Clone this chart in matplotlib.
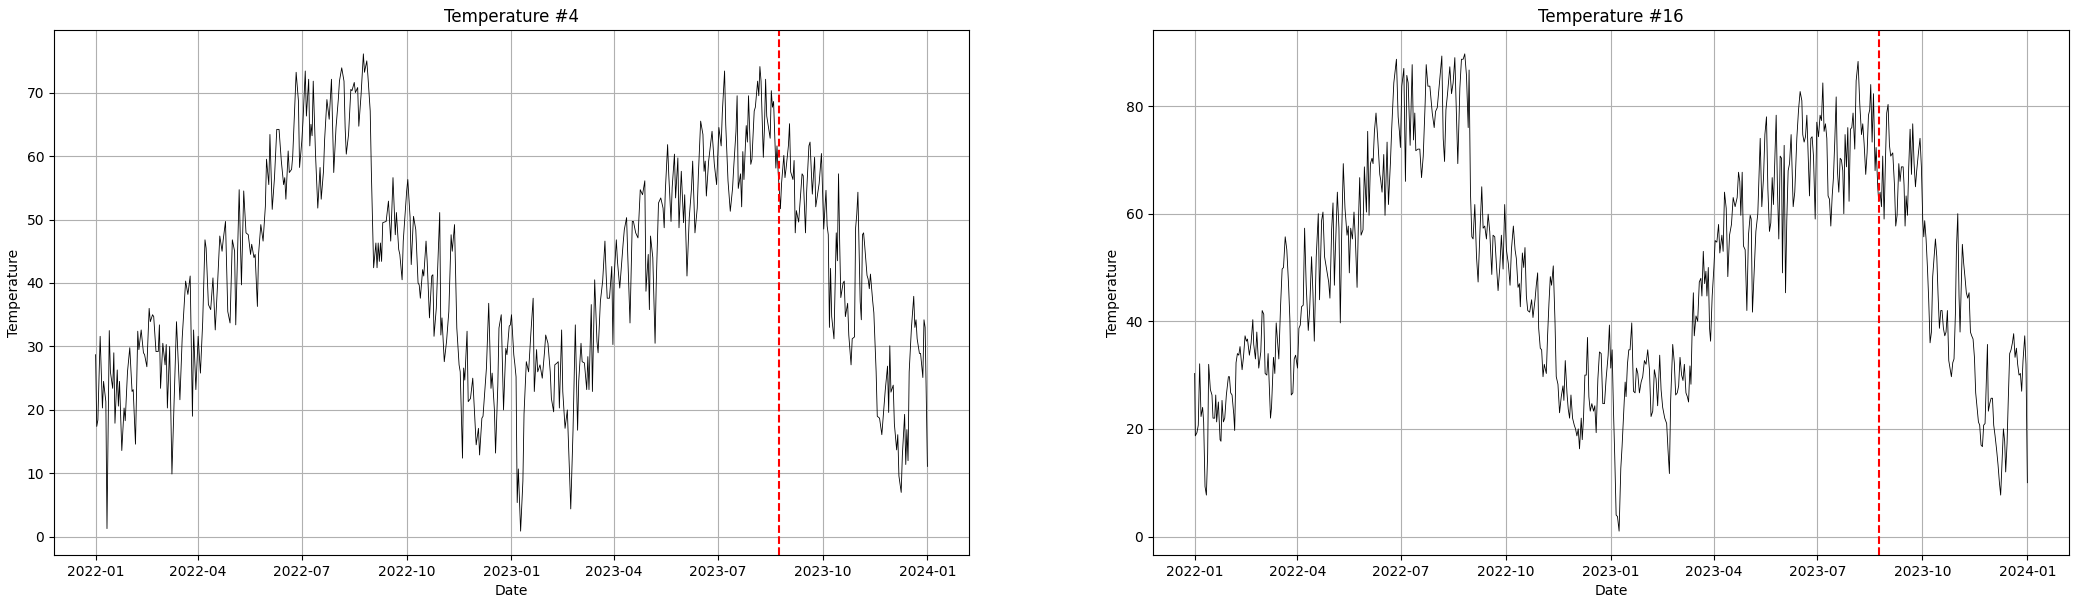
import matplotlib
matplotlib.use("Agg")
import matplotlib.pyplot as plt
import matplotlib.dates as mdates
import pandas as pd

START = "2022-01-01"
CUTOFF = "2023-08-24"

t4_days = [0, 1, 2, 4, 6, 7, 9, 10, 12, 13, 15, 16, 17, 19, 20, 21, 23, 25, 26, 28,
           30, 32, 33, 35, 37, 38, 40, 42, 43, 45, 47, 48, 50, 51, 53, 55, 56, 57, 59, 61,
           62, 63, 65, 67, 71, 74, 76, 79, 81, 83, 85, 86, 88, 90, 92, 94, 96, 97, 99, 101,
           103, 105, 107, 109, 111, 112, 114, 116, 118, 120, 122, 123, 126, 128, 130, 132, 134, 136, 137, 139,
           140, 142, 143, 145, 147, 149, 150, 152, 153, 155, 157, 159, 161, 163, 165, 166, 167, 169, 170, 172,
           173, 176, 178, 179, 181, 182, 184, 185, 187, 188, 189, 190, 191, 193, 195, 197, 198, 200, 201, 203,
           205, 207, 209, 211, 213, 214, 216, 218, 219, 220, 222, 224, 225, 227, 228, 230, 231, 233, 235, 236,
           238, 239, 241, 242, 243, 244, 246, 247, 248, 249, 250, 251, 252, 255, 257, 258, 259, 261, 263, 264,
           266, 267, 269, 270, 272, 273, 274, 276, 277, 279, 281, 283, 284, 285, 287, 288, 290, 291, 293, 295,
           296, 297, 299, 300, 302, 303, 304, 306, 308, 310, 312, 313, 315, 317, 319, 320, 322, 323, 324, 326,
           327, 329, 331, 333, 334, 336, 337, 339, 340, 342, 343, 345, 347, 348, 350, 351, 353, 354, 356, 358,
           360, 361, 363, 364, 365, 367, 368, 369, 370, 371, 372, 373, 375, 376, 377, 378, 380, 382, 384, 385,
           387, 388, 390, 392, 394, 395, 397, 399, 400, 402, 403, 405, 406, 407, 409, 410, 412, 414, 417, 419,
           421, 423, 424, 426, 427, 429, 431, 432, 433, 435, 436, 438, 440, 441, 443, 445, 447, 448, 449, 451,
           453, 454, 455, 457, 458, 460, 463, 464, 466, 467, 469, 471, 472, 474, 476, 478, 480, 482, 483, 485,
           486, 487, 489, 491, 492, 494, 496, 498, 499, 500, 502, 503, 505, 506, 508, 509, 511, 512, 514, 516,
           517, 519, 521, 523, 524, 526, 528, 529, 531, 533, 534, 535, 536, 538, 539, 541, 543, 545, 546, 547,
           549, 550, 552, 553, 555, 557, 559, 560, 562, 563, 564, 566, 567, 568, 569, 571, 572, 573, 575, 576,
           578, 579, 581, 582, 583, 584, 586, 587, 588, 589, 591, 592, 593, 594, 595, 597, 598, 599, 601, 602,
           604, 605, 606, 608, 609, 610, 612, 613, 614, 615, 617, 618, 620, 621, 622, 623, 624, 626, 627, 629,
           631, 632, 635, 637, 639, 641, 642, 643, 644, 645, 646, 648, 650, 651, 652, 653, 654, 656, 657, 658,
           660, 661, 663, 664, 666, 667, 668, 669, 671, 672, 673, 674, 675, 677, 678, 679, 680, 682, 683, 685,
           686, 688, 690, 691, 693, 695, 696, 697, 698, 700, 701, 703, 704, 705, 707, 708, 710, 711, 712, 713,
           714, 716, 718, 719, 720, 721, 723, 724, 726, 727, 728, 730]

t4_vals = [28.7, 17.4, 18.4, 31.6, 20.3, 24.5, 21.3, 1.3, 32.5, 26, 23.4, 29, 17.9, 26.3, 20.6, 24.5, 13.6, 20.3, 18.3, 26,
           29.8, 22.9, 23.2, 14.6, 32.4, 29.5, 32.6, 29, 28.7, 26.8, 36, 33.9, 35, 34.7, 29.2, 29.2, 33.4, 23.4, 30.5, 27.1,
           30.3, 20.3, 30, 9.9, 33.9, 21.6, 31.3, 40.3, 38.2, 41.1, 19, 32.6, 23.2, 31.6, 25.8, 33.9, 46.8, 45.5, 36.6, 35.8,
           40.8, 32.6, 39.7, 47.4, 45, 46.8, 49.7, 35.5, 33.7, 46.8, 45, 33.4, 54.7, 39.7, 54.5, 47.9, 47.6, 44.5, 46.1, 44,
           44.5, 36.3, 44.5, 49.2, 46.6, 52.1, 59.5, 55.5, 63.4, 51.6, 56.6, 64.2, 64.2, 59.2, 55.5, 56.6, 53.2, 60.8, 57.4, 57.9,
           60, 73.2, 68.7, 58.2, 62.4, 65.5, 73.4, 66.3, 72.1, 61.6, 65, 63.2, 71.8, 60.3, 51.8, 58.2, 53.2, 57.6, 62.6, 68.9,
           65.8, 72.1, 57.4, 64.5, 68.9, 71.8, 73.9, 71.8, 64.5, 60.3, 63.4, 70.5, 70.3, 71.6, 70, 70.8, 64.7, 69.7, 76.1, 73.2,
           75, 72.6, 67.1, 57.6, 49.7, 42.4, 46.3, 42.4, 46.3, 43.4, 46.3, 43.4, 49.5, 49.7, 52.9, 49.7, 46.6, 56.6, 47.6, 51.1,
           45.3, 44.5, 40.5, 46.6, 51.8, 54.5, 56.3, 50.3, 42.9, 50.5, 48.4, 40, 39.7, 37.6, 42.1, 41.1, 46.6, 43.4, 34.5, 41.1,
           41.3, 31.6, 36, 41.3, 51.1, 31.8, 34.5, 27.6, 30.8, 35.5, 47.6, 45, 49.2, 32.9, 27.1, 26, 12.4, 26.6, 24.7, 32.4,
           21.3, 21.8, 25, 18.2, 14.5, 17.1, 12.9, 18.7, 19, 24.2, 26.6, 36.8, 23.4, 25.8, 20, 13.2, 23.9, 32.9, 35, 20,
           29.7, 28.7, 33.2, 33.4, 35, 28.7, 27.1, 25.2, 5.4, 10.7, 5.7, 0.9, 8.8, 19.4, 23.6, 27.6, 26, 32.1, 37.6, 22.9,
           29.5, 26, 27.1, 25, 29.2, 31.8, 30.5, 26, 21.8, 19.7, 27.1, 27.4, 27.6, 20.3, 32.6, 22.9, 17.1, 20, 4.4, 16.8,
           33.4, 16.8, 24.5, 30.5, 27.6, 27.4, 23.2, 28.4, 23.2, 36.6, 22.9, 40.5, 30.8, 29, 37.1, 40.3, 46.6, 41.6, 37.6, 37.6,
           42.6, 30.3, 40.8, 46.8, 43.4, 39.2, 46.3, 48.4, 50.3, 44.5, 33.7, 49.7, 49.7, 47.9, 47.1, 54.7, 53.9, 56.1, 38.7, 44.5,
           35.8, 47.4, 44, 30.5, 39.7, 52.6, 53.4, 51.8, 48.7, 54.5, 61.8, 57.1, 49.7, 55, 60.3, 53.4, 59.7, 48.7, 57.6, 49.5,
           53.9, 41.1, 50.3, 55, 59.2, 47.9, 51.8, 57.1, 65.5, 63.4, 57.6, 59.2, 53.7, 59.2, 60.8, 63.9, 58.7, 55.5, 60, 64.5,
           61.6, 66.8, 73.4, 65, 56.1, 51.3, 54.9, 58.2, 63.9, 69.5, 54.9, 57.2, 52, 60.7, 56.3, 64.8, 62.2, 69.5, 58.7, 59.5,
           67.1, 67.7, 71.8, 69.5, 74.1, 71.8, 59.8, 64.5, 72.1, 66.3, 63.9, 62.8, 70.3, 67.7, 68.6, 58.1, 61.6, 57.5, 51.7, 55.7,
           60.1, 56.6, 58.1, 61.6, 65.1, 57.5, 56.3, 59.3, 47.9, 51.4, 49.6, 52.2, 57.2, 56.9, 52.2, 47.9, 54.3, 61.6, 62.2, 54,
           59.8, 52, 55.7, 60.4, 48.5, 54.6, 49, 47.6, 33, 42.3, 34.7, 31.2, 47.9, 43.5, 57.2, 46.4, 37.7, 40, 40.3, 34.7,
           36.8, 31.8, 27.1, 31.2, 31.5, 48.7, 50.8, 54.3, 37.1, 34.2, 47.6, 47.9, 45.8, 41.2, 40.6, 39.1, 41.4, 37.1, 35.3, 26,
           19, 18.7, 16.1, 18.4, 23.1, 26.9, 19.6, 30.1, 22.8, 23.9, 17.8, 13.7, 16.1, 9.6, 7, 12.8, 19.3, 11.4, 16.9, 12,
           26, 33, 37.9, 33, 34.2, 31.2, 28.9, 28.9, 25.1, 34.2, 33, 11.1]

t16_days = [0, 0.6, 2, 3.2, 4.4, 5.6, 7, 7.9, 9.1, 10.3, 11.4, 12.3, 13.8, 15.2, 16.1, 17.6, 18.5, 19.3, 20.8, 22.3,
            23.1, 24, 25.2, 26.4, 27.8, 29.6, 30.5, 31.6, 32.8, 34.3, 35.1, 36.3, 37.5, 38.7, 39.8, 41.6, 42.8, 44.2, 45.4, 46.3,
            48, 49.5, 51, 51.8, 53.3, 54.5, 56.2, 58, 59.2, 60.6, 61.8, 63.3, 64.4, 66.5, 67.4, 69.1, 70.3, 71.5, 73.8, 75.3,
            76.7, 77.9, 79.4, 80.8, 82.3, 83.5, 84.7, 86.1, 87.3, 88.5, 90.2, 91.4, 92.6, 93.7, 95.2, 96.4, 97.8, 99.6, 100.8, 102.5,
            103.7, 104.9, 106.6, 108.4, 109.5, 111.3, 112.5, 113.9, 116, 117.5, 118.6, 120.1, 121.3, 122.5, 123.3, 125.1, 126.5, 127.7, 128.9, 130.3,
            131.8, 133.6, 134.7, 135.6, 136.8, 138.3, 139.7, 140.9, 142.4, 143.5, 144.7, 145.9, 147.6, 148.8, 150.6, 151.7, 152.9, 154.1, 155.5, 156.4,
            157.6, 159, 160.5, 162.3, 163.1, 164.3, 165.8, 166.9, 168.7, 169.9, 171.6, 172.8, 174.6, 176.9, 178.4, 179.5, 180.4, 181.6, 183.4, 184.8,
            186, 187.2, 188.9, 190.7, 191.9, 193, 193.9, 195.7, 197.4, 198.9, 200.4, 202.1, 203, 204.5, 206.2, 208.3, 210, 211.2, 212.7, 214.4,
            216.7, 217.9, 219.1, 220.3, 221.7, 223.7, 225.2, 226.6, 228.1, 229.6, 230.7, 232.5, 233.9, 235.4, 236.8, 238.3, 239.8, 240.6, 241.8, 243,
            244.1, 245.6, 247.1, 248.5, 250, 251.7, 252.9, 254.3, 255.8, 257.3, 258.7, 260.5, 261.6, 263.1, 264.5, 266, 267.5, 268.9, 270.4, 271.8,
            273.3, 275, 276.5, 277.7, 279.4, 280.9, 282, 283.5, 284.7, 285.5, 287.3, 288.5, 289.6, 290.8, 292, 293.7, 295.4, 296.6, 298.4, 299.5,
            300.7, 301.6, 303, 304.2, 305.4, 306.5, 308.3, 309.4, 310.6, 311.8, 312.9, 314.4, 315.9, 317, 318.5, 319.9, 321.4, 322.9, 323.7, 324.9,
            326.4, 327.5, 328.7, 329.9, 331.3, 332.8, 333.9, 335.1, 336.3, 337.4, 338.9, 339.8, 340.9, 342.1, 343.3, 344.4, 345.6, 346.8, 348.2, 349.7,
            350.8, 352, 353.5, 354.9, 356.4, 357.8, 359.3, 360.7, 362.5, 363.6, 364.8, 366, 367.1, 368.3, 369.5, 370.7, 372.1, 373.6, 374.7, 376.2,
            377.4, 378.2, 379.4, 380.6, 381.7, 383.2, 384.7, 386.1, 387.3, 388.5, 389.9, 391.4, 392.8, 394.3, 395.7, 397.2, 398.7, 400.1, 401.6, 403,
            404.5, 405.9, 407.7, 408.9, 410.3, 412.1, 413.8, 415, 416.2, 417.3, 419.1, 420.5, 421.7, 423.1, 424.3, 425.5, 426.9, 428.1, 429.3, 430.7,
            431.9, 433, 434.2, 435.1, 436.3, 437.2, 438, 439.5, 441, 442.4, 443.8, 444.7, 445.9, 447.1, 448.2, 449.1, 450.3, 451.4, 452.3, 453.7,
            455.2, 456.3, 457.8, 459.3, 460.4, 462.2, 463.3, 464.5, 466, 467.4, 468.9, 470.6, 472.1, 473.8, 475.6, 476.8, 477.9, 478.8, 480, 481.1,
            482.6, 484.1, 485.5, 487, 487.9, 489, 490.5, 492, 493.7, 495.8, 497.2, 498.7, 499.9, 501.3, 502.5, 503.9, 505.1, 506.3, 507.4, 508.6,
            509.8, 510.9, 512.1, 513.3, 514.5, 515.3, 516.8, 518, 519.1, 520.3, 521.5, 522.9, 524.7, 526.1, 527.9, 529.4, 530.8, 532.3, 533.1, 534.3,
            535.5, 536.7, 537.8, 539, 540.2, 541.3, 542.5, 544, 545.4, 546.9, 548.3, 549.5, 550.7, 551.8, 553, 554.2, 555.3, 556.5, 557.7, 558.9,
            560, 561.2, 562.4, 563.5, 564.7, 565.9, 567, 568.2, 569.1, 570.2, 571.4, 572.6, 573.7, 574.9, 576.1, 577.2, 578.7, 579.9, 581.6, 583.1,
            584.6, 585.7, 586.9, 588.3, 589.5, 590.7, 591.8, 592.7, 593.9, 595.1, 596.5, 597.4, 598.9, 599.7, 600.9, 602.1, 603.2, 604.4, 605.6, 606.7,
            607.9, 609.1, 610.2, 612, 613.5, 614.6, 615.8, 617.3, 618.4, 619.6, 621.1, 621.9, 622.8, 623.7, 624.9, 626, 627.2, 628.4, 629.5, 630.7,
            631.9, 633, 634.5, 635.9, 637.1, 638.3, 639.2, 640, 641.2, 642.4, 643.5, 644.7, 645.9, 647, 648.2, 649.4, 650.6, 651.7, 652.9, 654.1,
            655.2, 656.4, 657.6, 658.7, 659.9, 661.1, 662.2, 663.4, 664.6, 665.7, 666.9, 667.8, 669, 670.1, 671, 672.2, 673, 674.2, 675.4, 676.5,
            677.7, 678.9, 680.1, 681.2, 682.4, 683.6, 684.7, 685.9, 687.1, 688.2, 689.4, 690.6, 691.7, 692.9, 693.8, 695, 695.8, 697, 698.2, 699.4,
            700.5, 701.7, 703.1, 704.3, 705.5, 706.6, 707.8, 709, 710.1, 711, 712.2, 713.3, 714.5, 715.7, 716.9, 718, 719.2, 720.4, 721.5, 722.7,
            723.9, 725, 726.2, 727.7, 728.8, 730]

t16_vals = [30.3, 18.7, 19.3, 20.7, 32.1, 22.3, 24, 21.3, 9.3, 7.7, 15.3, 32, 27.3, 26.3, 22, 22, 26.3, 21.3, 25, 18,
            17.7, 25.3, 21.3, 22, 26.3, 29.7, 29.7, 26.7, 26.3, 22.7, 19.7, 32.3, 34, 33.7, 35.3, 31, 33.3, 37.3, 36.3, 36.7,
            33.7, 36, 40.3, 35.7, 33, 38, 31.3, 34.3, 42, 41.3, 30.3, 30, 34, 22, 24, 33.3, 30.3, 39.7, 33, 42.7,
            49.7, 50, 55.7, 53.3, 47, 40.3, 26.3, 26.7, 33, 33.7, 31.3, 38.7, 39.3, 42.7, 43, 57.3, 46.7, 38.3, 42, 52,
            45.3, 36.3, 52, 60, 44, 58.7, 60.3, 52, 49.3, 47.3, 44.3, 57, 62, 46.7, 52.7, 64, 57.3, 39.7, 56, 69.3,
            61, 56, 57.7, 49, 57.3, 55.3, 60.3, 55.3, 46.3, 57.7, 66.7, 56, 57, 68.7, 60.3, 75.3, 59.7, 69.3, 70.3, 69.3,
            75.3, 78.7, 74, 67.3, 66.3, 64, 71, 59.7, 73.3, 61.7, 69.3, 76, 84.3, 88.7, 78, 75.3, 72.3, 83.7, 87, 66,
            85.7, 84.3, 72.7, 87.7, 73.7, 78.7, 71.7, 72, 72, 66.7, 70.7, 80.7, 87.7, 83.7, 83.7, 78.7, 76, 79, 79.7, 83.7,
            89.3, 74, 69.7, 79.3, 82.3, 87.3, 82.3, 84.3, 89, 78, 69.3, 83.3, 88.7, 88.7, 89.7, 85.7, 76, 86.7, 64, 55.7,
            55.3, 61.7, 52, 47.3, 56, 65, 57.3, 57.7, 55.3, 59.9, 56.7, 48.7, 56, 55.7, 50.7, 45.7, 50, 56, 49.7, 61.7,
            53.3, 50.7, 46.7, 53.3, 57.7, 53.3, 51.7, 46.3, 47, 42.7, 52.7, 50, 53.7, 44.7, 42, 41.7, 44, 40.7, 44, 46.7,
            49, 38.7, 35, 34.7, 29.7, 32, 30.3, 37.3, 43.3, 48.3, 46.7, 50.3, 40, 29.7, 28.3, 23, 26, 28, 25.3, 32.7,
            26.7, 23.7, 22, 26.3, 22, 20.7, 20, 18.7, 20, 16.3, 22, 18, 22, 30, 30, 37, 26, 23.3, 24.7, 23.3,
            24.3, 19.3, 29.3, 34.3, 34, 24.7, 24.7, 29.3, 33.7, 39.3, 31.3, 34.7, 24, 14.7, 4, 3.7, 1, 12.7, 16.7, 23.3,
            28.7, 26, 32, 34.7, 34.7, 39.7, 27, 26.7, 31.3, 30.3, 26.7, 28.7, 29.7, 32.7, 32, 34.7, 31, 22.3, 23.3, 31,
            29.3, 24.3, 33.7, 27.3, 24, 22, 21, 16, 11.7, 25.3, 35.7, 32.3, 26.3, 26.7, 28, 33.3, 30, 29, 32, 26.7,
            26, 25, 31.7, 28.3, 40, 45.3, 37.3, 41, 40, 47.3, 48, 44.7, 53, 47, 49.3, 44.7, 50, 38.7, 36.3, 44.7,
            50, 55, 54.7, 58, 52.7, 56, 53, 64, 61, 48.3, 56, 58, 63, 61.3, 63, 67.7, 66, 59.7, 67.7, 54,
            53.3, 42, 56, 59.7, 59, 41.7, 49.3, 56.7, 60, 74, 61.3, 66.7, 74.7, 78, 64.7, 56.7, 58.3, 66.7, 61.7, 69.7,
            78.3, 64.7, 55.3, 70.7, 70.3, 49, 72.7, 45.3, 58.7, 68, 69.3, 74.7, 61.3, 64, 74, 79.3, 82.7, 81, 74.7, 73.3,
            74.3, 78.3, 71.3, 63.3, 74, 74.3, 70.7, 59, 77, 74.3, 78.3, 77.3, 84.3, 75.3, 76.7, 74, 63.3, 62.7, 57.7, 63.3,
            66.7, 73.7, 81.7, 68, 64, 70.3, 70, 68, 60, 74.7, 68.7, 76, 62.3, 75.7, 76, 78.7, 72, 84.7, 88.3, 80.3,
            74.7, 76.7, 73, 67.3, 71.3, 78.3, 79.3, 84, 73.3, 82.3, 68, 72.3, 64.7, 62.3, 64, 61.3, 70.7, 59, 70, 78.7,
            80.3, 72.7, 70.7, 71.3, 65.3, 57.7, 59.7, 69.3, 66, 68.7, 68.7, 65.3, 57.7, 63.3, 59.7, 68.7, 75.7, 67.3, 76.7, 69.3,
            65, 68, 71.3, 74, 68.7, 58.7, 55.7, 58.7, 55.3, 50, 44, 36, 38, 48.3, 51.7, 55.3, 52, 45, 38.7, 42,
            42, 38.7, 37.3, 38, 42, 32.7, 31.3, 29.7, 32.3, 33, 41.3, 53.3, 60, 44.7, 38, 48, 54.3, 50.7, 48, 45.3,
            44.3, 45.3, 38, 37.3, 36.7, 33.3, 26.7, 24, 21.3, 20.7, 17, 16.7, 20.7, 21, 27.3, 35.7, 23.3, 24.7, 25.7, 25.7,
            20.7, 18.7, 16, 13.3, 10, 7.7, 14, 20, 17.7, 12, 17.3, 25.7, 34, 34.7, 36, 37.7, 33.3, 35, 32, 30,
            30.3, 27, 32.7, 37.3, 32, 10]

series = [("Temperature #4", t4_days, t4_vals),
          ("Temperature #16", t16_days, t16_vals)]

fig = plt.figure(figsize=(20.78, 6.04), dpi=100)
positions = [[54 / 2078, 49 / 604, 915 / 2078, 525 / 604],
             [1153 / 2078, 49 / 604, 916 / 2078, 525 / 604]]

start = pd.Timestamp(START)
cutoff = pd.Timestamp(CUTOFF)
for pos, (title, days, vals) in zip(positions, series):
    ax = fig.add_axes(pos)
    dates = start + pd.to_timedelta(days, unit="D")
    ax.plot(dates, vals, color="black", linewidth=0.6)
    ax.axvline(cutoff, color="red", linestyle="--", linewidth=1.5)
    ax.set_title(title, fontsize=12)
    ax.set_xlabel("Date")
    ax.set_ylabel("Temperature")
    ax.xaxis.set_major_locator(mdates.MonthLocator(bymonth=[1, 4, 7, 10]))
    ax.xaxis.set_major_formatter(mdates.DateFormatter("%Y-%m"))
    ax.grid(True)

fig.savefig("out.png", dpi=100)
